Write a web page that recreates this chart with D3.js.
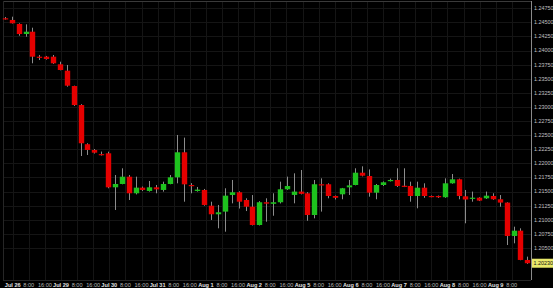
<!DOCTYPE html>
<html>
<head>
<meta charset="utf-8">
<script src="https://cdn.jsdelivr.net/npm/d3@7"></script>
<style>
  html, body { margin: 0; padding: 0; background: #000; }
  svg { display: block; }
</style>
</head>
<body>
<div id="chart"></div>
<script>
'use strict';

// x axis labels, one every 8 hours (weekend gap collapsed)
const tick_labels = ['Jul 26','8:00','16:00','Jul 29','8:00','16:00','Jul 30','8:00','16:00',
  'Jul 31','8:00','16:00','Aug 1','8:00','16:00','Aug 2','8:00','16:00','Aug 5','8:00','16:00',
  'Aug 6','8:00','16:00','Aug 7','8:00','16:00','Aug 8','8:00','16:00','Aug 9','8:00']

// price axis labels
const price_ticks = [1.2475, 1.245, 1.2425, 1.24, 1.2375, 1.235, 1.2325, 1.23, 1.2275, 1.225,
  1.2225, 1.22, 1.2175, 1.215, 1.2125, 1.21, 1.2075, 1.205]

const last_price = 1.20230

// candles
const opens = [
  1.24573, 1.24543, 1.24472, 1.24294, 1.24335, 1.23892, 1.23892, 1.23892, 1.23757, 1.23644,
  1.23372, 1.23035, 1.22340, 1.22238, 1.22165, 1.22179, 1.21576, 1.21635, 1.21764, 1.21470,
  1.21570, 1.21511, 1.21576, 1.21529, 1.21635, 1.21753, 1.22197, 1.21617, 1.21511, 1.21529,
  1.21250, 1.21098, 1.21145, 1.21440, 1.21488, 1.21351, 1.21232, 1.20908, 1.21311, 1.21283,
  1.21311, 1.21541, 1.21441, 1.21500, 1.21470, 1.21085, 1.21630, 1.21630, 1.21422, 1.21452,
  1.21576, 1.21617, 1.21835, 1.21776, 1.21481, 1.21617, 1.21694, 1.21706, 1.21604, 1.21600,
  1.21422, 1.21569, 1.21422, 1.21422, 1.21400, 1.21647, 1.21718, 1.21416, 1.21374, 1.21392,
  1.21381, 1.21422, 1.21364, 1.21305, 1.20713, 1.20807, 1.20288]

const highs = [
  1.24596, 1.24601, 1.24484, 1.24466, 1.24406, 1.23922, 1.23905, 1.23922, 1.23803, 1.23745,
  1.23378, 1.23050, 1.22357, 1.22255, 1.22210, 1.22208, 1.21794, 1.21913, 1.21794, 1.21765,
  1.21590, 1.21688, 1.21617, 1.21676, 1.21794, 1.22504, 1.22457, 1.21650, 1.21582, 1.21547,
  1.21321, 1.21263, 1.21559, 1.21706, 1.21505, 1.21381, 1.21439, 1.21330, 1.21381, 1.21470,
  1.21676, 1.21765, 1.21824, 1.21883, 1.21490, 1.21706, 1.21735, 1.21647, 1.21430, 1.21565,
  1.21706, 1.21913, 1.21948, 1.21893, 1.21635, 1.21680, 1.21730, 1.21913, 1.21913, 1.21676,
  1.21676, 1.21647, 1.21430, 1.21430, 1.21735, 1.21812, 1.21730, 1.21529, 1.21500, 1.21400,
  1.21500, 1.21470, 1.21439, 1.21310, 1.20878, 1.20849, 1.20347]

const lows = [
  1.24551, 1.24480, 1.24264, 1.24246, 1.23775, 1.23833, 1.23840, 1.23765, 1.23650, 1.23360,
  1.23020, 1.22131, 1.22149, 1.22175, 1.22140, 1.21559, 1.21174, 1.21630, 1.21351, 1.21450,
  1.21510, 1.21500, 1.21470, 1.21499, 1.21630, 1.21647, 1.21321, 1.21470, 1.21500, 1.21250,
  1.20997, 1.20849, 1.20789, 1.21292, 1.21200, 1.21155, 1.20900, 1.20900, 1.20966, 1.21072,
  1.21290, 1.21529, 1.21292, 1.21450, 1.20983, 1.21026, 1.21145, 1.21381, 1.21360, 1.21364,
  1.21440, 1.21611, 1.21770, 1.21410, 1.21364, 1.21600, 1.21680, 1.21582, 1.21580, 1.21321,
  1.21204, 1.21390, 1.21400, 1.21388, 1.21390, 1.21640, 1.21364, 1.20938, 1.21321, 1.21332,
  1.21370, 1.21355, 1.21232, 1.20553, 1.20583, 1.20283, 1.20218]

const closes = [
  1.24564, 1.24484, 1.24294, 1.24335, 1.23892, 1.23885, 1.23851, 1.23775, 1.23656, 1.23378,
  1.23035, 1.22357, 1.22238, 1.22190, 1.22160, 1.21576, 1.21635, 1.21764, 1.21470, 1.21570,
  1.21529, 1.21576, 1.21540, 1.21635, 1.21753, 1.22197, 1.21629, 1.21610, 1.21535, 1.21263,
  1.21098, 1.21133, 1.21428, 1.21488, 1.21321, 1.21232, 1.20908, 1.21311, 1.21286, 1.21311,
  1.21541, 1.21599, 1.21500, 1.21460, 1.21085, 1.21630, 1.21628, 1.21422, 1.21390, 1.21559,
  1.21610, 1.21835, 1.21782, 1.21481, 1.21617, 1.21665, 1.21706, 1.21600, 1.21600, 1.21422,
  1.21569, 1.21422, 1.21416, 1.21400, 1.21647, 1.21718, 1.21422, 1.21360, 1.21392, 1.21340,
  1.21428, 1.21364, 1.21305, 1.20713, 1.20807, 1.20288, 1.20230]

const width = 553
const height = 288
const plot = { left: 3, right: 531, top: 1, bottom: 280 }

// each candle covers ~3.4 trading hours, first one opens just before Jul 26
const candle_hours = 3.415
const first_hour = -3.83

const candles = opens.map((o, i) => {
  return {
    hour: first_hour + i * candle_hours,
    open: o, high: highs[i], low: lows[i], close: closes[i]
  }
})

const svg = d3.select('#chart')
  .append('svg')
  .attr('width', width)
  .attr('height', height)
  .style('background', '#000')

const x_scale = d3.scaleLinear()
  .domain([0, (tick_labels.length - 1) * 8])
  .range([12.7, 511.8])

const y_scale = d3.scaleLinear()
  .domain([1.199326, 1.248794])
  .range([plot.bottom, plot.top])

// grid
const grid_g = svg.append('g')
  .attr('stroke', '#151515')
  .attr('stroke-width', 1)

grid_g.selectAll('line.v')
  .data(tick_labels)
  .join('line')
  .attr('class', 'v')
  .attr('x1', (d, i) => Math.round(x_scale(i * 8)) + 0.5)
  .attr('x2', (d, i) => Math.round(x_scale(i * 8)) + 0.5)
  .attr('y1', plot.top)
  .attr('y2', plot.bottom)

grid_g.selectAll('line.h')
  .data(price_ticks)
  .join('line')
  .attr('class', 'h')
  .attr('x1', plot.left)
  .attr('x2', plot.right)
  .attr('y1', d => Math.round(y_scale(d)) + 0.5)
  .attr('y2', d => Math.round(y_scale(d)) + 0.5)

// frame
svg.append('line')
  .attr('x1', plot.left).attr('x2', plot.right)
  .attr('y1', plot.top + 0.5).attr('y2', plot.top + 0.5)
  .attr('stroke', '#3a3a3a')
svg.append('line')
  .attr('x1', plot.left + 0.5).attr('x2', plot.left + 0.5)
  .attr('y1', plot.top).attr('y2', plot.bottom)
  .attr('stroke', '#262626')
svg.append('line')
  .attr('x1', plot.left).attr('x2', plot.right)
  .attr('y1', plot.bottom + 0.5).attr('y2', plot.bottom + 0.5)
  .attr('stroke', '#262626')
svg.append('line')
  .attr('x1', plot.right + 0.5).attr('x2', plot.right + 0.5)
  .attr('y1', plot.top).attr('y2', plot.bottom)
  .attr('stroke', '#8a8a8a')

// candles
const body_w = 5.4
const candle_g = svg.append('g')

candle_g.selectAll('line')
  .data(candles)
  .join('line')
  .attr('x1', d => Math.round(x_scale(d.hour)) + 0.5)
  .attr('x2', d => Math.round(x_scale(d.hour)) + 0.5)
  .attr('y1', d => y_scale(d.high))
  .attr('y2', d => y_scale(d.low))
  .attr('stroke', '#8c8c8c')
  .attr('stroke-width', 1)

candle_g.selectAll('rect')
  .data(candles)
  .join('rect')
  .attr('x', d => Math.round(x_scale(d.hour)) + 0.5 - body_w / 2)
  .attr('y', d => y_scale(Math.max(d.open, d.close)))
  .attr('width', body_w)
  .attr('height', d => Math.max(1.2, Math.abs(y_scale(d.open) - y_scale(d.close))))
  .attr('fill', d => d.close < d.open ? '#e50000' : '#1ec21e')

// x labels
svg.append('g')
  .style('font-family', 'Liberation Sans, Arial, sans-serif')
  .style('font-size', '5.6px')
  .selectAll('text')
  .data(tick_labels)
  .join('text')
  .attr('x', (d, i) => x_scale(i * 8))
  .attr('y', 286.5)
  .attr('text-anchor', 'middle')
  .attr('fill', d => d.includes(':') ? '#b5b5b5' : '#e0e0e0')
  .style('font-weight', d => d.includes(':') ? 'normal' : 'bold')
  .text(d => d)

// price labels
svg.append('g')
  .style('font-family', 'Liberation Sans, Arial, sans-serif')
  .style('font-size', '5.4px')
  .selectAll('text')
  .data(price_ticks)
  .join('text')
  .attr('x', 534)
  .attr('y', d => y_scale(d))
  .attr('dy', '0.35em')
  .attr('fill', '#c0c0c0')
  .text(d => d.toFixed(5))

// last price tag
const tag_y = y_scale(last_price)
svg.append('rect')
  .attr('x', plot.right + 1)
  .attr('y', tag_y - 4.5)
  .attr('width', 21)
  .attr('height', 9)
  .attr('fill', '#e8e86a')
svg.append('text')
  .attr('x', 533.5)
  .attr('y', tag_y)
  .attr('dy', '0.35em')
  .style('font-family', 'Liberation Sans, Arial, sans-serif')
  .style('font-size', '5.4px')
  .attr('fill', '#111')
  .text(last_price.toFixed(5))
</script>
</body>
</html>
